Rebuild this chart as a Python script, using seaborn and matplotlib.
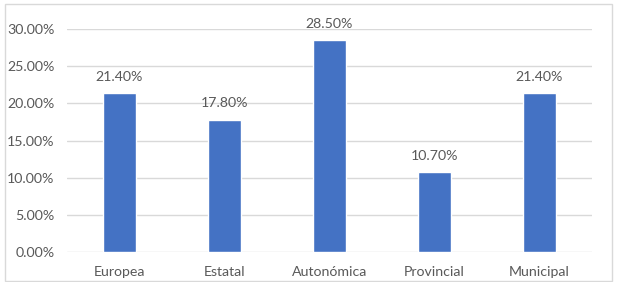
import matplotlib
matplotlib.use('Agg')
import matplotlib.pyplot as plt
import matplotlib.patches as mpatches
import seaborn as sns
import pandas as pd

categories = ['Europea', 'Estatal', 'Autonómica', 'Provincial', 'Municipal']
values = [21.40, 17.80, 28.50, 10.70, 21.40]
yticks = [0, 5, 10, 15, 20, 25, 30]

df = pd.DataFrame({'cat': categories, 'val': values})

sns.set_style('white')
plt.rcParams['font.family'] = ['Lato', 'DejaVu Sans']
text_color = '#595959'

fig = plt.figure(figsize=(6.18, 2.82), dpi=100)
ax = fig.add_axes([67 / 618, 30 / 282, 525 / 618, 223 / 282])

sns.barplot(data=df, x='cat', y='val', color='#4472C4', saturation=1,
            width=0.31, ax=ax, zorder=3)

ax.set_ylim(0, 30)
ax.set_yticks(yticks)
ax.set_yticklabels([f'{t:.2f}%' for t in yticks], fontsize=10.2, color=text_color)
ax.set_xlim(-0.5, len(categories) - 0.5)
ax.set_xlabel('')
ax.set_ylabel('')
ax.tick_params(axis='x', colors=text_color, labelsize=10.2, length=0, pad=10)
ax.tick_params(axis='y', length=0, pad=9)
ax.yaxis.grid(True, color='#D9D9D9', linewidth=1, zorder=0)
for s in ax.spines.values():
    s.set_visible(False)

for i, v in enumerate(values):
    ax.text(i, v + 1.4, f'{v:.2f}%', ha='center', va='bottom',
            fontsize=10.2, color=text_color)

# outer chart border
fig.patches.append(mpatches.Rectangle((5 / 618, 1 / 282), 607 / 618, 277 / 282,
                                      transform=fig.transFigure, fill=False,
                                      edgecolor='#D9D9D9', linewidth=1))

fig.savefig('out.png', dpi=100)
